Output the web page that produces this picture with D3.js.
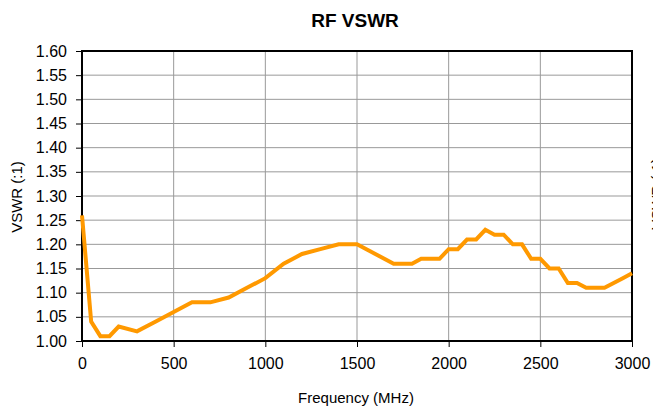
<!DOCTYPE html>
<html>
<head>
<meta charset="utf-8">
<script src="https://cdn.jsdelivr.net/npm/d3@7"></script>
<style>
  body { margin: 0; background: #fff; }
  svg { font-family: "Liberation Sans", Arial, sans-serif; }
</style>
</head>
<body>
<svg id="chart" width="653" height="411"></svg>
<script>
// 频率 (MHz)
const freqs = [0, 50, 100, 150, 200, 300, 400, 500, 600, 700, 800, 900, 1000, 1100, 1200, 1300, 1400, 1500,
  1600, 1700, 1800, 1850, 1950, 2000, 2050, 2100, 2150, 2200, 2250, 2300, 2350, 2400, 2450, 2500,
  2550, 2600, 2650, 2700, 2750, 2800, 2850, 2900, 2950, 3000];
// VSWR 值
const vswr = [1.26, 1.04, 1.01, 1.01, 1.03, 1.02, 1.04, 1.06, 1.08, 1.08, 1.09, 1.11, 1.13, 1.16, 1.18, 1.19, 1.20, 1.20,
  1.18, 1.16, 1.16, 1.17, 1.17, 1.19, 1.19, 1.21, 1.21, 1.23, 1.22, 1.22, 1.20, 1.20, 1.17, 1.17,
  1.15, 1.15, 1.12, 1.12, 1.11, 1.11, 1.11, 1.12, 1.13, 1.14];
const xTicks = [0, 500, 1000, 1500, 2000, 2500, 3000];
const yTicks = [1.00, 1.05, 1.10, 1.15, 1.20, 1.25, 1.30, 1.35, 1.40, 1.45, 1.50, 1.55, 1.60];

const data = freqs.map((f, i) => ({ f, v: vswr[i] }));

const svg = d3.select("#chart");
const padding = { top: 51, right: 21, bottom: 70, left: 82 };
const width = 653 - padding.left - padding.right;
const height = 411 - padding.top - padding.bottom;

const g = svg.append("g").attr("transform", `translate(${padding.left},${padding.top})`);

const xScale = d3.scaleLinear().domain([0, 3000]).range([0, width]);
const yScale = d3.scaleLinear().domain([1.0, 1.6]).range([height, 0]);

// 网格线
g.append("g").selectAll("line")
  .data(yTicks)
  .enter().append("line")
  .attr("x1", 0).attr("x2", width)
  .attr("y1", d => yScale(d)).attr("y2", d => yScale(d))
  .attr("stroke", "#999").attr("stroke-width", 1);
g.append("g").selectAll("line")
  .data(xTicks)
  .enter().append("line")
  .attr("y1", 0).attr("y2", height)
  .attr("x1", d => xScale(d)).attr("x2", d => xScale(d))
  .attr("stroke", "#999").attr("stroke-width", 1);

// 绘图区边框
g.append("rect")
  .attr("x", 0).attr("y", 0)
  .attr("width", width).attr("height", height)
  .attr("fill", "none")
  .attr("stroke", "#000")
  .attr("stroke-width", 2);

// X轴
const xAxis = d3.axisBottom(xScale).tickValues(xTicks).tickSize(6).tickPadding(11).tickFormat(d3.format("d"));
g.append("g")
  .attr("class", "x-axis")
  .attr("transform", `translate(0,${height})`)
  .call(xAxis)
  .call(a => a.select(".domain").remove())
  .call(a => a.selectAll(".tick line").attr("stroke", "#000"))
  .selectAll("text")
  .style("font-size", "16px")
  .attr("fill", "#000");

// Y轴
const yAxis = d3.axisLeft(yScale).tickValues(yTicks).tickSize(6).tickPadding(9).tickFormat(d3.format(".2f"));
g.append("g")
  .attr("class", "y-axis")
  .call(yAxis)
  .call(a => a.select(".domain").remove())
  .call(a => a.selectAll(".tick line").attr("stroke", "#000"))
  .selectAll("text")
  .style("font-size", "16px")
  .attr("fill", "#000");

// 曲线
const lineGenerator = d3.line()
  .x(d => xScale(d.f))
  .y(d => yScale(d.v));
g.append("path")
  .datum(data)
  .attr("fill", "none")
  .attr("stroke", "#FF9900")
  .attr("stroke-width", 4)
  .attr("stroke-linejoin", "miter")
  .attr("d", lineGenerator);

// 标题
svg.append("text")
  .attr("x", 355).attr("y", 27)
  .attr("text-anchor", "middle")
  .style("font-size", "19px")
  .style("font-weight", "bold")
  .text("RF VSWR");

// 轴标签
svg.append("text")
  .attr("x", 356).attr("y", 403)
  .attr("text-anchor", "middle")
  .style("font-size", "15px")
  .text("Frequency (MHz)");
svg.append("text")
  .attr("transform", "translate(22,197) rotate(-90)")
  .attr("text-anchor", "middle")
  .style("font-size", "15px")
  .text("VSWR (:1)");
svg.append("text")
  .attr("transform", "translate(662,194) rotate(-90)")
  .attr("text-anchor", "middle")
  .style("font-size", "15px")
  .text("VSWR (:1)");
</script>
</body>
</html>
